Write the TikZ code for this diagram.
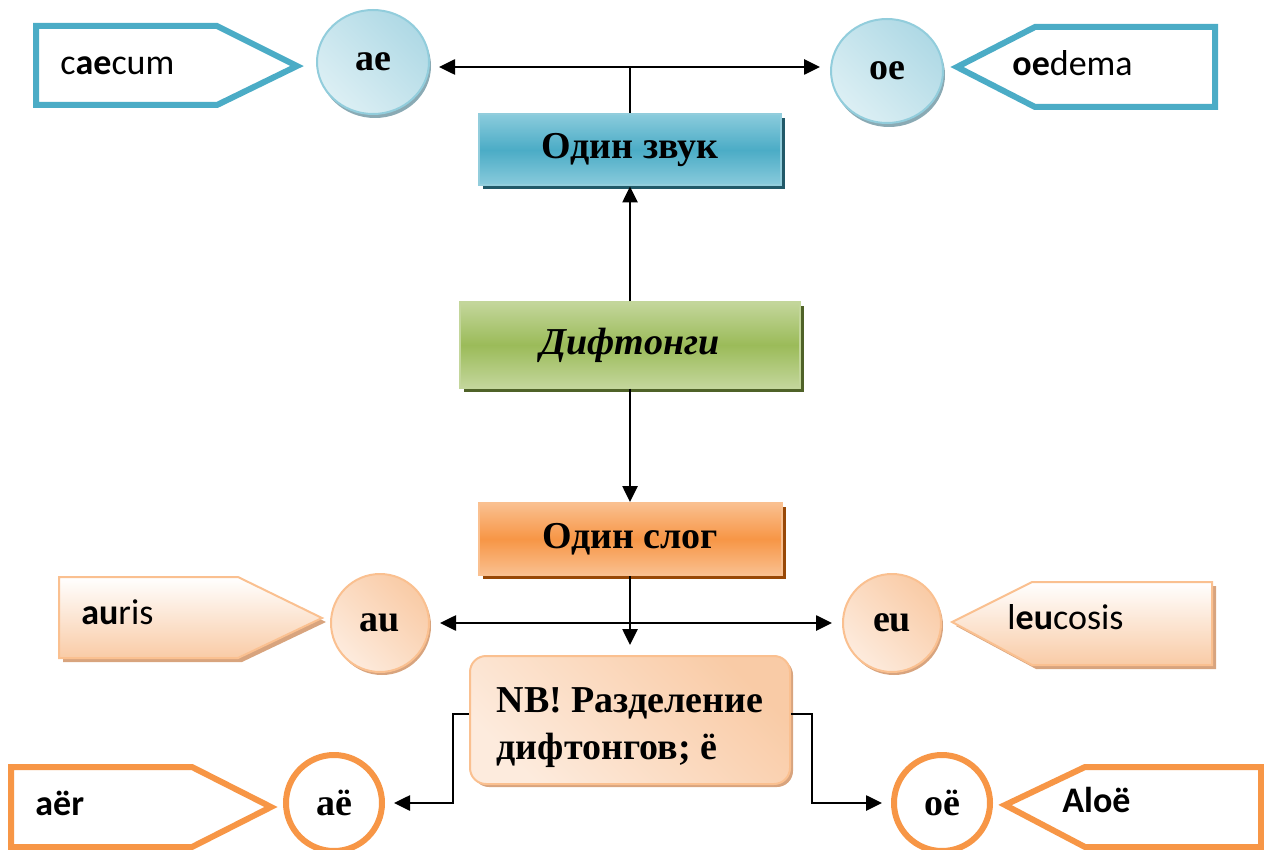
\documentclass[tikz,border=0pt]{standalone}
\usepackage{fontspec}
\setmainfont{Liberation Serif}
\newfontfamily\calfont{Carlito}
\usetikzlibrary{arrows.meta,shadows,shapes.geometric}
\definecolor{blueA}{HTML}{4BACC6}
\definecolor{blueL}{HTML}{92CDDC}
\definecolor{blueB}{HTML}{8ACBDC}
\definecolor{blueLL}{HTML}{DCEFF4}
\definecolor{blueM}{HTML}{AFD9E5}
\definecolor{blueD}{HTML}{215968}
\definecolor{blueS}{HTML}{8AAAB4}
\definecolor{greenA}{HTML}{9BBB59}
\definecolor{greenL}{HTML}{C3D69B}
\definecolor{greenD}{HTML}{4F6228}
\definecolor{orA}{HTML}{F79646}
\definecolor{orL}{HTML}{FAC090}
\definecolor{orLL}{HTML}{FDEBDD}
\definecolor{orM}{HTML}{F9CBA6}
\definecolor{orD}{HTML}{984807}
\definecolor{orS}{HTML}{D8A47E}
\tikzset{
  lab/.style={font=\fontsize{19}{23.5}\selectfont\bfseries},
  caltext/.style={font=\fontsize{18}{22}\selectfont\calfont, inner sep=0pt, anchor=base west},
  boxbase/.style={rectangle, lab, line width=1pt, inner sep=0pt},
  bluebox/.style={boxbase, draw=blueL, top color=blueB, bottom color=blueB, middle color=blueA,
    minimum width=151pt, minimum height=35.5pt,
    general shadow={fill=blueD, shadow xshift=2pt, shadow yshift=-2pt}},
  greenbox/.style={boxbase, draw=greenL, top color=greenL, bottom color=greenL, middle color=greenA,
    minimum width=170pt, minimum height=42.5pt,
    general shadow={fill=greenD, shadow xshift=2pt, shadow yshift=-2pt}},
  orbox/.style={boxbase, draw=orL, top color=orL, bottom color=orL, middle color=orA,
    minimum width=151.5pt, minimum height=36pt,
    general shadow={fill=orD, shadow xshift=2pt, shadow yshift=-2pt}},
  nbbox/.style={boxbase, draw=orL, rounded corners=8pt, shading=axis, left color=orLL, right color=orM,
    shading angle=135, minimum width=160pt, minimum height=64pt, align=left,
    general shadow={fill=orS, shadow xshift=1.5pt, shadow yshift=-1.5pt}},
  topcir/.style={ellipse, lab, draw=blueL, line width=1pt, inner sep=0pt,
    minimum width=56pt, minimum height=52pt, shading=axis, left color=blueLL, right color=blueM, shading angle=135,
    general shadow={fill=blueS, shadow xshift=1pt, shadow yshift=-2pt}},
  midcir/.style={circle, lab, draw=orL, line width=1pt, inner sep=0pt,
    minimum size=49pt, shading=axis, left color=orLL, right color=orM, shading angle=135,
    general shadow={fill=orS, shadow xshift=1pt, shadow yshift=-1.5pt}},
  botcir/.style={circle, lab, draw=orA, fill=white, line width=3pt, inner sep=0pt, minimum size=48pt},
  blueflag/.style={draw=blueA, line width=3pt, line join=miter, fill=white},
  orflag/.style={draw=orA, line width=3pt, line join=miter, fill=white},
  peachflag/.style={draw=orL, line width=1pt, line join=miter, top color=white, bottom color=orM},
  conn/.style={line width=1.3pt},
  arr/.style={conn, -{Triangle[length=8pt,width=7.5pt]}},
  dbl/.style={conn, {Triangle[length=8pt,width=7.5pt]}-{Triangle[length=8pt,width=7.5pt]}},
}
\begin{document}
\begin{tikzpicture}[x=0.5pt,y=-0.5pt]
\useasboundingbox (0,0) rectangle (1264,850);
\clip (0,0) rectangle (1264,850);
% flags
\draw[blueflag] (36,26) -- (217,26) -- (297,66) -- (217,105) -- (36,105) -- cycle;
\draw[blueflag] (1215,27) -- (1035,27) -- (957,67) -- (1035,107) -- (1215,107) -- cycle;
\fill[orS] (63,581) -- (242,581) -- (326,622) -- (242,662) -- (63,662) -- cycle;
\draw[peachflag] (59,577) -- (238,577) -- (322,618) -- (238,658) -- (59,658) -- cycle;
\fill[orS] (1216,586) -- (1036,586) -- (956,626) -- (1036,669) -- (1216,669) -- cycle;
\draw[peachflag] (1212,582) -- (1032,582) -- (952,622) -- (1032,665) -- (1212,665) -- cycle;
\draw[orflag] (11,767) -- (192,767) -- (271,807) -- (192,847) -- (11,847) -- cycle;
\draw[orflag] (1261,767) -- (1085,767) -- (1005,805) -- (1085,847) -- (1261,847) -- cycle;
% flag texts
\node[caltext] (t1) at (60,75) {c\textbf{ae}cum};
\node[caltext] (t2) at (1012,76) {\textbf{oe}dema};
\node[caltext] (t3) at (81,624) {\textbf{au}ris};
\node[caltext] (t4) at (1007,629) {l\textbf{eu}cosis};
\node[caltext] (t5) at (35,815) {\textbf{aër}};
\node[caltext] (t6) at (1062,812) {\textbf{Aloë}};
% boxes
\node[bluebox] (zv) at (630,150) {Один звук};
\node[greenbox] (dif) at (630,345) {\itshape Дифтонги};
\node[orbox] (slog) at (630,539) {Один слог};
\node[nbbox] (nb) at (630,720) {\rule{0pt}{20pt}NB! Разделение\\дифтонгов; ё};
% circles
\node[topcir] (ae) at (373,62) {ae};
\node[topcir] (oe) at (887,71) {oe};
\node[midcir] (au) at (380,623) {au};
\node[midcir] (eu) at (892,623) {eu};
\node[botcir] (ae2) at (334,803) {aë};
\node[botcir] (oe2) at (942,803) {oë};
% junctions
\coordinate (jt) at (630,67);
\coordinate (lj) at (453,714);
\coordinate (rj) at (812,714);
% connectors
\draw[dbl, shorten <=4.5pt, shorten >=5pt] (ae.east |- jt) -- (oe.west |- jt);
\draw[conn] (jt) -- (zv.north);
\draw[arr] (dif.north) -- (zv.south);
\draw[arr] (dif.south) -- (slog.north);
\draw[dbl, shorten <=5pt, shorten >=5pt] (au.east) -- (eu.west);
\draw[arr, shorten >=5pt] (slog.south) -- (nb.north);
\draw[arr, shorten >=4.5pt] (nb.west |- lj) -- (lj) |- (ae2);
\draw[arr, shorten >=4.5pt] (nb.east |- rj) -- (rj) |- (oe2);
\end{tikzpicture}
\end{document}
